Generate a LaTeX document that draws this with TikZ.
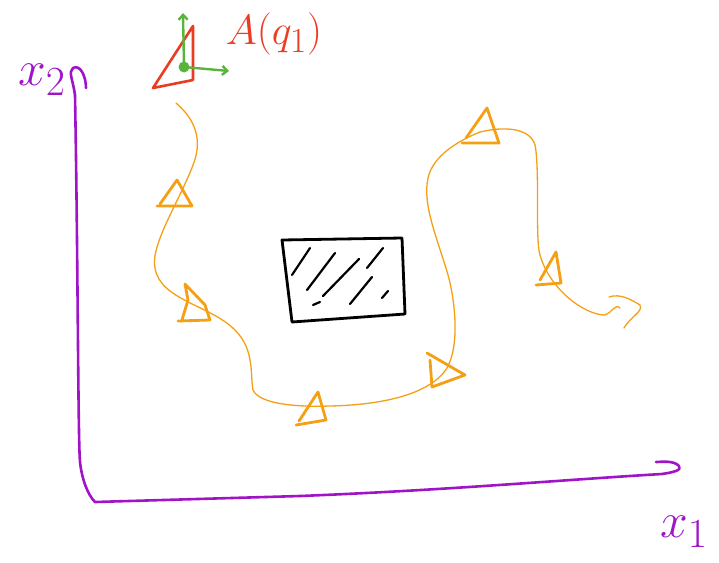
\documentclass[tikz,border=0pt]{standalone}
\usetikzlibrary{arrows.meta}
\definecolor{axpurple}{RGB}{160,20,200}
\definecolor{rred}{RGB}{235,60,35}
\definecolor{ggreen}{RGB}{90,180,60}
\definecolor{oorange}{RGB}{245,160,20}
\tikzset{
  axis/.style={draw=axpurple,line width=2.6pt,line cap=round,line join=round},
  lbl/.style={text=axpurple,font=\Huge,scale=2,inner sep=0pt},
  path/.style={draw=oorange,line width=1.3pt,line cap=round,line join=round},
  tri/.style={draw=oorange,line width=2.8pt,line cap=round,line join=round},
  hatch/.style={draw=black,line width=2.2pt,line cap=round},
}
\begin{document}
\begin{tikzpicture}[x=1pt,y=-1pt]
\useasboundingbox (0,0) rectangle (719,562);
% axes
\draw[axis] (75,95) .. controls (78,260) and (78,440) .. (80,462)
  .. controls (82,480) and (88,495) .. (95,502)
  -- (300,496) .. controls (450,490) and (560,480) .. (662,474);
\draw[axis] (75,95) .. controls (73,80) and (68,72) .. (73,68) .. controls (80,64) and (86,76) .. (86,88);
\draw[axis] (662,474) .. controls (675,472) and (682,470) .. (679,466) .. controls (674,460) and (660,462) .. (656,462);
\node[lbl] (x2) at (42,80) {$x_2$};
\node[lbl] (x1) at (684,532) {$x_1$};
% robot
\draw[rred,line width=2.6pt,line join=round,line cap=round] (153,88) -- (193,26) -- (193,80) -- cycle;
\node[circle,fill=ggreen,inner sep=0pt,minimum size=11pt] (q) at (184,67) {};
\draw[ggreen,line width=2.4pt,-{Straight Barb[length=5pt,width=9pt]}] (q.center) -- (183,13);
\draw[ggreen,line width=2.4pt,-{Straight Barb[length=5pt,width=9pt]}] (q.center) -- (229,71);
\node[text=rred,font=\Huge,scale=1.7,inner sep=0pt] (A) at (274,34) {$A(q_1)$};
% obstacle
\draw[black,line width=2.8pt,line join=round,line cap=round] (282,240) -- (402,238) -- (405,314) -- (292,322) -- cycle;
\draw[hatch] (292,275) -- (310,248);
\draw[hatch] (307,290) -- (335,253);
\draw[hatch] (323,296) -- (359,259);
\draw[hatch] (313,305) -- (320,302);
\draw[hatch] (350,304) -- (372,277);
\draw[hatch] (367,268) -- (383,248);
\draw[hatch] (382,298) -- (388,291);
% orange path
\draw[path] (176,103) .. controls (190,115) and (205,135) .. (193,165)
  .. controls (180,200) and (150,245) .. (155,268)
  .. controls (160,300) and (210,305) .. (235,330)
  .. controls (255,350) and (250,375) .. (253,390)
  .. controls (260,405) and (300,407) .. (330,406)
  .. controls (380,405) and (430,395) .. (447,368)
  .. controls (460,345) and (455,300) .. (448,275)
  .. controls (438,240) and (422,205) .. (428,178)
  .. controls (433,155) and (460,140) .. (480,132)
  .. controls (505,126) and (530,128) .. (535,145)
  .. controls (540,170) and (535,240) .. (540,255)
  .. controls (550,290) and (585,315) .. (605,315)
  .. controls (612,313) and (615,303) .. (620,308);
\draw[path] (609,297) .. controls (620,293) and (632,300) .. (640,305)
  .. controls (643,312) and (632,315) .. (624,328);
% triangles
\draw[tri] (157,206) -- (192,206) -- (177,180) -- (160,204);
\draw[tri] (178,321) -- (210,320) -- (205,305) -- (185,284) -- (188,300) -- (182,320);
\draw[tri] (296,425) -- (326,420) -- (318,392) -- (299,421);
\draw[tri] (427,353) -- (465,375) -- (432,387) -- (430,360);
\draw[tri] (462,143) -- (499,143) -- (487,108) -- (466,138);
\draw[tri] (536,285) -- (561,283) -- (556,252) -- (540,280);
\end{tikzpicture}
\end{document}
